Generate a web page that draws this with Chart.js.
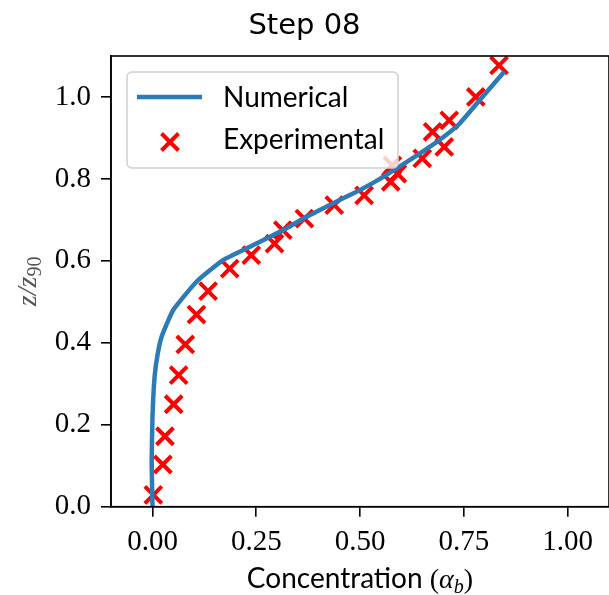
<!DOCTYPE html>
<html>
<head>
<meta charset="utf-8">
<script src="https://cdn.jsdelivr.net/npm/chart.js@4.4.1/dist/chart.umd.min.js"></script>
<style>
  html, body { margin: 0; padding: 0; background: #fff; }
  canvas { display: block; }
</style>
</head>
<body>
<canvas id="stepChart" width="609" height="595"></canvas>
<script>
// Numerical profile (blue line)
const numX = [0.000, -0.002, 0.000, 0.005, 0.012, 0.022, 0.050, 0.106, 0.170, 0.242, 0.322, 0.370, 0.450, 0.500, 0.546, 0.578, 0.659, 0.702, 0.739, 0.795, 0.848];
const numZ = [0.000, 0.110, 0.220, 0.317, 0.370, 0.415, 0.480, 0.549, 0.602, 0.638, 0.679, 0.707, 0.748, 0.773, 0.799, 0.819, 0.872, 0.903, 0.934, 1.000, 1.062];

// Experimental measurements (red crosses)
const expX = [0.002, 0.025, 0.030, 0.051, 0.063, 0.079, 0.106, 0.134, 0.186, 0.238, 0.294, 0.314, 0.366, 0.438, 0.510, 0.574, 0.590, 0.578, 0.650, 0.703, 0.675, 0.715, 0.779, 0.835];
const expZ = [0.029, 0.103, 0.172, 0.250, 0.321, 0.396, 0.469, 0.526, 0.581, 0.614, 0.642, 0.675, 0.703, 0.736, 0.760, 0.793, 0.813, 0.833, 0.850, 0.878, 0.915, 0.943, 1.000, 1.077];

// Axis ticks
const xTicks = [0, 0.25, 0.5, 0.75, 1.0];
const yTicks = [0, 0.2, 0.4, 0.6, 0.8, 1.0];

const BLUE = '#2c7bb6';
const RED = '#ff0000';
const SANS = 'Lato';
const SERIF = '"Liberation Serif"';

// Draw the frame, axis labels and legend box the way the original figure has them
const decorations = {
  id: 'decorations',
  afterDraw(chart) {
    const ctx = chart.ctx;
    const ca = chart.chartArea;
    ctx.save();

    // frame
    ctx.strokeStyle = '#000';
    ctx.lineWidth = 1.6;
    ctx.strokeRect(ca.left, ca.top, ca.right - ca.left, ca.bottom - ca.top);

    // x axis label: Concentration (α_b)
    const parts = [
      { t: 'Concentration ', f: '28px ' + SANS, dy: 0 },
      { t: '(', f: '28px ' + SERIF, dy: 0 },
      { t: 'α', f: 'italic 28px ' + SERIF, dy: 0 },
      { t: 'b', f: 'italic 20px ' + SERIF, dy: 5 },
      { t: ')', f: '28px ' + SERIF, dy: 0 }
    ];
    let total = 0;
    parts.forEach(p => { ctx.font = p.f; p.w = ctx.measureText(p.t).width; total += p.w; });
    let x = (ca.left + ca.right) / 2 - total / 2;
    ctx.fillStyle = '#000';
    ctx.textBaseline = 'alphabetic';
    ctx.textAlign = 'left';
    parts.forEach(p => { ctx.font = p.f; ctx.fillText(p.t, x, 588 + p.dy); x += p.w; });

    // y axis label: z/z_90
    ctx.save();
    ctx.translate(28, (ca.top + ca.bottom) / 2);
    ctx.rotate(-Math.PI / 2);
    const yparts = [
      { t: 'z/z', f: 'italic 28px ' + SERIF, dy: 0 },
      { t: '90', f: '20px ' + SERIF, dy: 5 }
    ];
    total = 0;
    yparts.forEach(p => { ctx.font = p.f; p.w = ctx.measureText(p.t).width; total += p.w; });
    x = -total / 2;
    ctx.fillStyle = '#555';
    yparts.forEach(p => { ctx.font = p.f; ctx.fillText(p.t, x, 8 + p.dy); x += p.w; });
    ctx.restore();

    // legend
    const bx = ca.left + 16, by = ca.top + 16, bw = 271, bh = 96;
    ctx.beginPath();
    ctx.roundRect(bx, by, bw, bh, 5);
    ctx.fillStyle = 'rgba(255,255,255,0.8)';
    ctx.fill();
    ctx.strokeStyle = '#d0d0d0';
    ctx.lineWidth = 1.5;
    ctx.stroke();

    const ds = chart.data.datasets;
    ctx.beginPath();
    ctx.moveTo(bx + 10, by + 25);
    ctx.lineTo(bx + 75, by + 25);
    ctx.strokeStyle = BLUE;
    ctx.lineWidth = 4.5;
    ctx.stroke();

    const cx = bx + 43, cy = by + 70, h = 8.5;
    ctx.beginPath();
    ctx.moveTo(cx - h, cy - h); ctx.lineTo(cx + h, cy + h);
    ctx.moveTo(cx - h, cy + h); ctx.lineTo(cx + h, cy - h);
    ctx.strokeStyle = RED;
    ctx.lineWidth = 4;
    ctx.stroke();

    ctx.fillStyle = '#000';
    ctx.font = '28px ' + SANS;
    ctx.fillText(ds[0].label, bx + 96, by + 35);
    ctx.fillText(ds[1].label, bx + 96, by + 77);

    ctx.restore();
  }
};

const ctx = document.getElementById('stepChart').getContext('2d');
new Chart(ctx, {
  type: 'scatter',
  data: {
    datasets: [
      {
        label: 'Numerical',
        data: numX.map((v, i) => ({ x: v, y: numZ[i] })),
        showLine: true,
        borderColor: BLUE,
        borderWidth: 4.5,
        pointRadius: 0,
        tension: 0.15,
        fill: false
      },
      {
        label: 'Experimental',
        data: expX.map((v, i) => ({ x: v, y: expZ[i] })),
        pointStyle: 'crossRot',
        pointRadius: 12,
        borderColor: RED,
        backgroundColor: RED,
        pointBorderWidth: 4,
        borderWidth: 4
      }
    ]
  },
  options: {
    responsive: false,
    animation: false,
    layout: { autoPadding: false, padding: { left: 0, right: 0, top: 0, bottom: 0 } },
    plugins: {
      legend: { display: false },
      tooltip: { enabled: false },
      title: {
        display: true,
        text: 'Step 08',
        color: '#000',
        font: { family: 'DejaVu Sans', size: 29, weight: 'normal' },
        padding: { top: 9, bottom: 12.2 }
      }
    },
    scales: {
      x: {
        type: 'linear',
        min: -0.1,
        max: 1.1,
        afterFit: s => { s.height = 88.3; s.paddingLeft = 0; s.paddingRight = 0; },
        afterBuildTicks: s => { s.ticks = xTicks.map(v => ({ value: v })); },
        grid: { drawOnChartArea: false, tickLength: 10, color: '#000', lineWidth: 1.6 },
        border: { display: true, color: '#000', width: 1.6 },
        ticks: {
          color: '#000',
          padding: 8,
          maxRotation: 0,
          font: { family: 'Liberation Serif', size: 29 },
          callback: v => v.toFixed(2)
        }
      },
      y: {
        type: 'linear',
        min: 0,
        max: 1.1,
        afterFit: s => { s.width = 111; s.paddingTop = 0; s.paddingBottom = 0; },
        afterBuildTicks: s => { s.ticks = yTicks.map(v => ({ value: v })); },
        grid: { drawOnChartArea: false, tickLength: 10, color: '#000', lineWidth: 1.6 },
        border: { display: true, color: '#000', width: 1.6 },
        ticks: {
          color: '#000',
          padding: 10,
          font: { family: 'Liberation Serif', size: 29 },
          callback: v => v.toFixed(1)
        }
      }
    }
  },
  plugins: [decorations]
});
</script>
</body>
</html>
